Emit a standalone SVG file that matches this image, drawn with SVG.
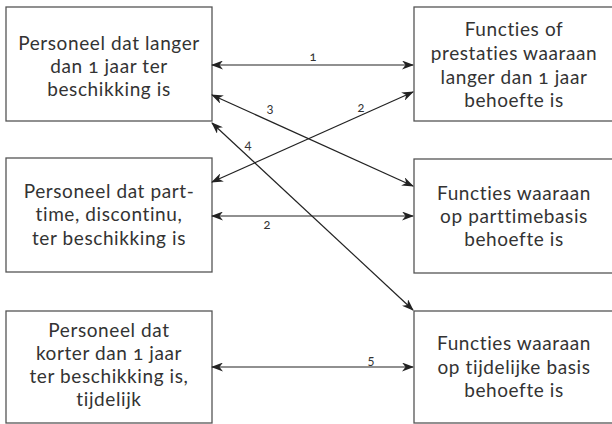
<svg xmlns="http://www.w3.org/2000/svg" width="612" height="424" viewBox="0 0 612 424">
<style>
.box{fill:#fff;stroke:#555;stroke-width:1.3}
.t{font-family:Lato,"Liberation Sans",sans-serif;font-size:19px;letter-spacing:0.6px;fill:#333;text-anchor:middle;font-variant-numeric:oldstyle-nums;font-variant-ligatures:none}
.l{font-family:Lato,"Liberation Sans",sans-serif;font-size:13px;fill:#333;text-anchor:middle;font-variant-numeric:oldstyle-nums}
.c{stroke:#222;stroke-width:1.2;fill:none;marker-start:url(#a);marker-end:url(#a)}
</style>
<defs>
<marker id="a" viewBox="0 0 12 9" refX="11" refY="4.5" markerWidth="12" markerHeight="9" markerUnits="userSpaceOnUse" orient="auto-start-reverse">
<path d="M0,0 L12,4.5 L0,9 L3.5,4.5 z" fill="#222"/>
</marker>
</defs>
<g id="n1"><rect class="box" x="6" y="7" width="206" height="114"/>
<text class="t"><tspan x="109" y="50">Personeel dat langer</tspan><tspan x="109" y="73">dan 1 jaar ter</tspan><tspan x="109" y="96">beschikking is</tspan></text></g>
<g id="n2"><rect class="box" x="6" y="158" width="206" height="114"/>
<text class="t"><tspan x="109" y="198">Personeel dat part-</tspan><tspan x="109" y="221">time, discontinu,</tspan><tspan x="109" y="245">ter beschikking is</tspan></text></g>
<g id="n3"><rect class="box" x="6" y="311" width="206" height="112"/>
<text class="t"><tspan x="109" y="337">Personeel dat</tspan><tspan x="109" y="360">korter dan 1 jaar</tspan><tspan x="109" y="383">ter beschikking is,</tspan><tspan x="109" y="406">tijdelijk</tspan></text></g>
<g id="n4"><rect class="box" x="414" y="7" width="205" height="114"/>
<text class="t"><tspan x="514" y="36">Functies of</tspan><tspan x="514" y="60">prestaties waaraan</tspan><tspan x="514" y="84">langer dan 1 jaar</tspan><tspan x="514" y="107">behoefte is</tspan></text></g>
<g id="n5"><rect class="box" x="414" y="159" width="205" height="114"/>
<text class="t"><tspan x="514" y="200">Functies waaraan</tspan><tspan x="514" y="223">op parttimebasis</tspan><tspan x="514" y="246">behoefte is</tspan></text></g>
<g id="n6"><rect class="box" x="414" y="311" width="205" height="112"/>
<text class="t"><tspan x="514" y="350">Functies waaraan</tspan><tspan x="514" y="374">op tijdelijke basis</tspan><tspan x="514" y="397">behoefte is</tspan></text></g>
<g id="connectors">
<line class="c" x1="212" y1="65" x2="413" y2="65"/>
<line class="c" x1="212" y1="95" x2="413" y2="186"/>
<line class="c" x1="212" y1="182" x2="413" y2="92"/>
<line class="c" x1="212" y1="123" x2="413" y2="310"/>
<line class="c" x1="212" y1="216" x2="413" y2="216"/>
<line class="c" x1="212" y1="367" x2="413" y2="367"/>
<text class="l" x="313" y="61">1</text>
<text class="l" x="270" y="113">3</text>
<text class="l" x="361" y="112">2</text>
<text class="l" x="248" y="149">4</text>
<text class="l" x="267" y="229">2</text>
<text class="l" x="371" y="365">5</text>
</g>
</svg>
